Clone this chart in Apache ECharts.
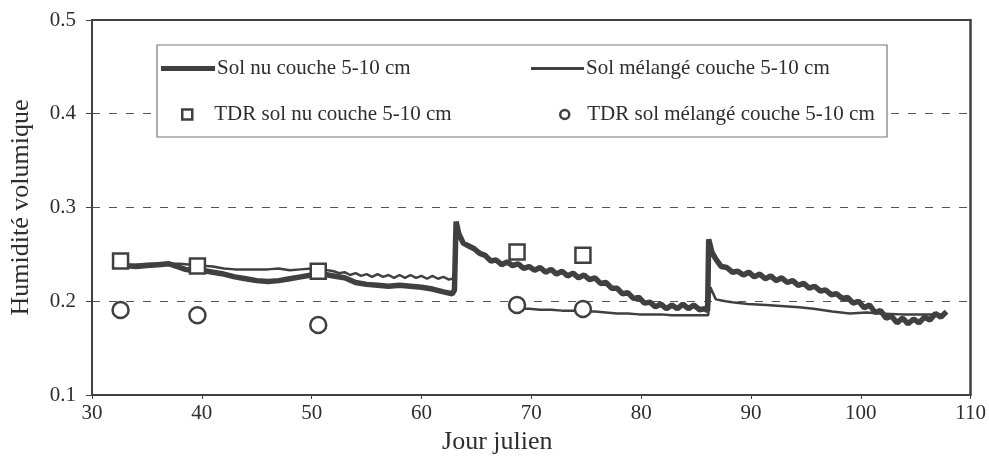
<!DOCTYPE html>
<html>
<head>
<meta charset="utf-8">
<script src="https://cdn.jsdelivr.net/npm/echarts@6/dist/echarts.min.js"></script>
<style>
html,body{margin:0;padding:0;background:#fff;}
#chart{width:989px;height:463px;}
</style>
</head>
<body>
<div id="chart"></div>
<script>
// ---- data ----
var xAxisTitle = 'Jour julien';
var yAxisTitle = 'Humidité volumique';
var nameNu = 'Sol nu couche 5-10 cm';
var nameMel = 'Sol mélangé couche 5-10 cm';
var nameTdrNu = 'TDR sol nu couche 5-10 cm';
var nameTdrMel = 'TDR sol mélangé couche 5-10 cm';

// Sol nu couche 5-10 cm (thick line): [day, value]
var solNu = [
  [32.0,0.237],[33,0.238],[34,0.237],[35,0.238],[36,0.239],[37,0.240],[37.5,0.238],[38,0.236],
  [38.5,0.234],[39,0.233],[39.5,0.232],[40,0.233],[41,0.231],[42,0.229],[43,0.226],[44,0.224],
  [45,0.222],[46,0.221],[47,0.222],[48,0.224],[49,0.226],[50,0.228],[51,0.229],[52,0.227],
  [53,0.225],[54,0.220],[55,0.218],[56,0.217],[57,0.216],[58,0.217],[59,0.216],[60,0.215],
  [61,0.213],[62,0.210],[62.8,0.208],[63.0,0.212],[63.15,0.285],[63.4,0.272],[63.8,0.262],
  [64.3,0.259],[64.8,0.256],[65.3,0.251],[65.8,0.249],[66.3,0.243],[66.8,0.244],[67.3,0.239],
  [67.8,0.242],[68.3,0.238],[68.8,0.240],[69.3,0.235],[69.8,0.237],[70.3,0.233],[70.8,0.236],
  [71.3,0.231],[71.8,0.234],[72.3,0.229],[72.8,0.232],[73.3,0.227],[73.8,0.230],[74.3,0.225],
  [74.8,0.228],[75.3,0.223],[75.8,0.225],[76.3,0.219],[76.8,0.220],[77.3,0.214],[77.8,0.214],
  [78.3,0.208],[78.8,0.209],[79.3,0.203],[79.8,0.204],[80.3,0.198],[80.8,0.199],[81.3,0.194],
  [81.8,0.197],[82.3,0.192],[82.8,0.196],[83.3,0.192],[83.8,0.197],[84.3,0.192],[84.8,0.196],
  [85.3,0.191],[85.8,0.192],[86.05,0.190],[86.15,0.266],[86.45,0.252],[86.8,0.245],[87.3,0.237],
  [87.8,0.236],[88.3,0.231],[88.8,0.232],[89.3,0.228],[89.8,0.231],[90.3,0.226],[90.8,0.229],
  [91.3,0.224],[91.8,0.227],[92.3,0.222],[92.8,0.225],[93.3,0.220],[93.8,0.222],[94.3,0.217],
  [94.8,0.219],[95.3,0.214],[95.8,0.216],[96.3,0.211],[96.8,0.212],[97.3,0.207],[97.8,0.208],
  [98.3,0.203],[98.8,0.204],[99.3,0.198],[99.8,0.200],[100.3,0.193],[100.8,0.196],[101.3,0.188],
  [101.8,0.190],[102.3,0.182],[102.8,0.184],[103.3,0.177],[103.8,0.182],[104.3,0.176],[104.8,0.181],
  [105.3,0.177],[105.8,0.183],[106.3,0.180],[106.8,0.187],[107.3,0.183],[107.8,0.189]
];

// Sol mélangé couche 5-10 cm (thin line): [day, value]; null marks the data gap
var solMel = [
  [32.5,0.238],[33,0.239],[34,0.239],[35,0.240],[36,0.240],[37,0.240],[38,0.240],[39,0.239],
  [40,0.238],[41,0.237],[42,0.235],[43,0.234],[44,0.234],[45,0.234],[46,0.234],[47,0.235],
  [48,0.233],[49,0.234],[50,0.235],[51,0.234],[52,0.232],[52.5,0.230],[53,0.231],[53.5,0.228],
  [54,0.230],[54.5,0.227],[55,0.229],[55.5,0.226],[56,0.229],[56.5,0.226],[57,0.228],[57.5,0.225],
  [58,0.228],[58.5,0.225],[59,0.228],[59.5,0.225],[60,0.227],[60.5,0.224],[61,0.227],[61.5,0.224],
  [62,0.226],[62.5,0.223],[63,0.225],
  [65,null],
  [68.3,0.194],[68.8,0.192],[69.8,0.192],[70.8,0.191],[71.8,0.191],[72.8,0.190],[73.8,0.190],
  [74.8,0.189],[75.8,0.189],[76.8,0.188],[77.8,0.187],[78.8,0.187],[79.8,0.186],[80.8,0.186],
  [81.8,0.186],[82.8,0.185],[83.8,0.185],[84.8,0.185],[85.8,0.185],[86.1,0.185],[86.3,0.215],
  [86.8,0.202],[87.7,0.200],[88.3,0.199],[89.7,0.197],[91.4,0.196],[92.7,0.195],[94.4,0.1935],
  [95.7,0.192],[97.4,0.189],[99.0,0.187],[100.5,0.188],[101.7,0.187],[103.7,0.186],[105.7,0.186],
  [107.7,0.186]
];

// TDR measurements
var tdrNu = [[32.6,0.243],[39.6,0.2375],[50.6,0.232],[68.7,0.2525],[74.7,0.249]];
var tdrMel = [[32.6,0.1906],[39.6,0.185],[50.6,0.1746],[68.7,0.196],[74.7,0.1917]];

// axis ranges / ticks
var xMin = 30, xMax = 110, xStep = 10;
var yMin = 0.1, yMax = 0.5, yStep = 0.1;

// ---- chart ----
var ink = '#404040';
var txt = '#2e2e2e';
var serif = '"Liberation Serif","Times New Roman",serif';
var chart = echarts.init(document.getElementById('chart'), null, {renderer: 'canvas'});

function legendItem(name, icon, left, top, w, h, gap) {
  return {
    data: [{name: name, icon: icon}], left: left, top: top, itemWidth: w, itemHeight: h, itemGap: 0,
    padding: 0, selectedMode: false, z: 20,
    itemStyle: {borderWidth: icon === 'rect' && h < 8 ? 0 : 2},
    textStyle: {fontFamily: serif, fontSize: 21, color: txt, padding: [0, 0, 0, gap]}
  };
}

var option = {
  animation: false,
  backgroundColor: '#fff',
  grid: {left: 91, right: 17, top: 20, bottom: 68, show: false},
  graphic: [{
    type: 'rect', z: 10,
    shape: {x: 157, y: 45, width: 730, height: 92},
    style: {fill: '#fff', stroke: '#777', lineWidth: 1.2}
  }],
  legend: [
    {
      data: [{name: nameNu, icon: 'rect'}], left: 161, top: 58, itemWidth: 54, itemHeight: 5,
      itemGap: 0, padding: 0, selectedMode: false, z: 20,
      itemStyle: {color: '#404040', borderWidth: 0},
      textStyle: {fontFamily: serif, fontSize: 21, color: txt, padding: [0, 0, 0, -3]}
    },
    {
      data: [{name: nameMel, icon: 'rect'}], left: 531, top: 58, itemWidth: 53, itemHeight: 3,
      itemGap: 0, padding: 0, selectedMode: false, z: 20,
      itemStyle: {color: '#404040', borderWidth: 0},
      textStyle: {fontFamily: serif, fontSize: 21, color: txt, padding: [0, 0, 0, -3]}
    },
    {
      data: [{name: nameTdrNu, icon: 'rect'}], left: 181, top: 104, itemWidth: 10, itemHeight: 10,
      itemGap: 0, padding: 0, selectedMode: false, z: 20,
      itemStyle: {color: '#fff', borderColor: '#404040', borderWidth: 2.5},
      textStyle: {fontFamily: serif, fontSize: 21, color: txt, padding: [0, 0, 0, 17]}
    },
    {
      data: [{name: nameTdrMel, icon: 'circle'}], left: 559, top: 104, itemWidth: 9, itemHeight: 9,
      itemGap: 0, padding: 0, selectedMode: false, z: 20,
      itemStyle: {color: '#fff', borderColor: '#404040', borderWidth: 2.5},
      textStyle: {fontFamily: serif, fontSize: 21, color: txt, padding: [0, 0, 0, 13]}
    }
  ],
  xAxis: [{
    type: 'value', min: xMin, max: xMax, interval: xStep,
    name: xAxisTitle, nameLocation: 'middle', nameGap: 33,
    nameTextStyle: {fontFamily: serif, fontSize: 26, color: txt, padding: [0, 68, 0, 0]},
    axisLine: {show: true, onZero: false, lineStyle: {color: ink, width: 2}},
    axisTick: {show: true, length: 4, lineStyle: {color: ink, width: 1}},
    axisLabel: {fontFamily: serif, fontSize: 21, color: txt, margin: 8},
    splitLine: {show: false}
  }, {
    type: 'value', min: xMin, max: xMax, position: 'top',
    axisLine: {show: true, onZero: false, lineStyle: {color: ink, width: 2}},
    axisTick: {show: false}, axisLabel: {show: false}, splitLine: {show: false}
  }],
  yAxis: [{
    type: 'value', min: yMin, max: yMax, interval: yStep,
    name: yAxisTitle, nameLocation: 'middle', nameGap: 58,
    nameTextStyle: {fontFamily: serif, fontSize: 26, color: txt},
    axisLine: {show: true, onZero: false, lineStyle: {color: ink, width: 2}},
    axisTick: {show: true, length: 6, lineStyle: {color: ink, width: 1}},
    axisLabel: {fontFamily: serif, fontSize: 21, color: txt, margin: 16,
      formatter: function (v) { return v.toFixed(1); }},
    splitLine: {show: true, lineStyle: {color: '#555', width: 1, type: [8, 9]}}
  }, {
    type: 'value', min: yMin, max: yMax, position: 'right',
    axisLine: {show: true, onZero: false, lineStyle: {color: ink, width: 2.5}},
    axisTick: {show: false}, axisLabel: {show: false}, splitLine: {show: false}
  }],
  series: [{
    name: nameNu, type: 'line', data: solNu, showSymbol: false, symbol: 'none',
    lineStyle: {color: ink, width: 5.5}, itemStyle: {color: ink}, z: 3
  }, {
    name: nameMel, type: 'line', data: solMel, showSymbol: false, symbol: 'none',
    connectNulls: false,
    lineStyle: {color: ink, width: 2.5}, itemStyle: {color: ink}, z: 4
  }, {
    name: nameTdrNu, type: 'scatter', data: tdrNu, symbol: 'rect', symbolSize: 15,
    itemStyle: {color: '#fff', borderColor: ink, borderWidth: 2.5, opacity: 1}, z: 5
  }, {
    name: nameTdrMel, type: 'scatter', data: tdrMel, symbol: 'circle', symbolSize: 16,
    itemStyle: {color: '#fff', borderColor: ink, borderWidth: 2.5, opacity: 1}, z: 5
  }]
};
chart.setOption(option);
</script>
</body>
</html>
